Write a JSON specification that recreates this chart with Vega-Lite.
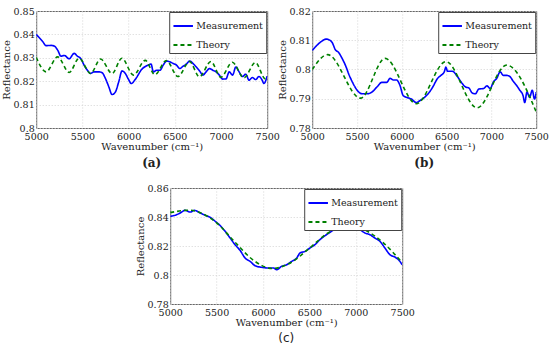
{
"$schema": "https://vega.github.io/schema/vega-lite/v6.json",
"background": "white",
"padding": {"left": 0, "top": 5, "right": 3, "bottom": 2},
"datasets": {
"a": [
{"x":5000,"r":0.8400,"s":"Measurement"},{"x":5071,"r":0.8369,"s":"Measurement"},{"x":5107,"r":0.8352,"s":"Measurement"},{"x":5161,"r":0.8353,"s":"Measurement"},{"x":5196,"r":0.8350,"s":"Measurement"},{"x":5232,"r":0.8333,"s":"Measurement"},{"x":5268,"r":0.8307,"s":"Measurement"},{"x":5304,"r":0.8310,"s":"Measurement"},{"x":5357,"r":0.8296,"s":"Measurement"},{"x":5411,"r":0.8319,"s":"Measurement"},{"x":5446,"r":0.8307,"s":"Measurement"},{"x":5482,"r":0.8297,"s":"Measurement"},{"x":5518,"r":0.8269,"s":"Measurement"},{"x":5554,"r":0.8247,"s":"Measurement"},{"x":5589,"r":0.8233,"s":"Measurement"},{"x":5625,"r":0.8240,"s":"Measurement"},{"x":5679,"r":0.8240,"s":"Measurement"},{"x":5714,"r":0.8236,"s":"Measurement"},{"x":5750,"r":0.8211,"s":"Measurement"},{"x":5786,"r":0.8176,"s":"Measurement"},{"x":5821,"r":0.8143,"s":"Measurement"},{"x":5857,"r":0.8154,"s":"Measurement"},{"x":5893,"r":0.8197,"s":"Measurement"},{"x":5929,"r":0.8244,"s":"Measurement"},{"x":5964,"r":0.8233,"s":"Measurement"},{"x":6000,"r":0.8207,"s":"Measurement"},{"x":6029,"r":0.8190,"s":"Measurement"},{"x":6071,"r":0.8207,"s":"Measurement"},{"x":6143,"r":0.8251,"s":"Measurement"},{"x":6214,"r":0.8269,"s":"Measurement"},{"x":6243,"r":0.8273,"s":"Measurement"},{"x":6268,"r":0.8240,"s":"Measurement"},{"x":6304,"r":0.8247,"s":"Measurement"},{"x":6339,"r":0.8247,"s":"Measurement"},{"x":6375,"r":0.8269,"s":"Measurement"},{"x":6411,"r":0.8286,"s":"Measurement"},{"x":6446,"r":0.8283,"s":"Measurement"},{"x":6482,"r":0.8276,"s":"Measurement"},{"x":6518,"r":0.8269,"s":"Measurement"},{"x":6554,"r":0.8254,"s":"Measurement"},{"x":6589,"r":0.8264,"s":"Measurement"},{"x":6625,"r":0.8273,"s":"Measurement"},{"x":6661,"r":0.8286,"s":"Measurement"},{"x":6696,"r":0.8276,"s":"Measurement"},{"x":6732,"r":0.8261,"s":"Measurement"},{"x":6768,"r":0.8244,"s":"Measurement"},{"x":6804,"r":0.8226,"s":"Measurement"},{"x":6839,"r":0.8240,"s":"Measurement"},{"x":6875,"r":0.8254,"s":"Measurement"},{"x":6911,"r":0.8247,"s":"Measurement"},{"x":6946,"r":0.8240,"s":"Measurement"},{"x":6982,"r":0.8226,"s":"Measurement"},{"x":7018,"r":0.8209,"s":"Measurement"},{"x":7054,"r":0.8210,"s":"Measurement"},{"x":7089,"r":0.8240,"s":"Measurement"},{"x":7125,"r":0.8226,"s":"Measurement"},{"x":7161,"r":0.8261,"s":"Measurement"},{"x":7196,"r":0.8240,"s":"Measurement"},{"x":7232,"r":0.8220,"s":"Measurement"},{"x":7268,"r":0.8230,"s":"Measurement"},{"x":7304,"r":0.8204,"s":"Measurement"},{"x":7339,"r":0.8216,"s":"Measurement"},{"x":7375,"r":0.8207,"s":"Measurement"},{"x":7411,"r":0.8220,"s":"Measurement"},{"x":7446,"r":0.8204,"s":"Measurement"},{"x":7464,"r":0.8190,"s":"Measurement"},{"x":7500,"r":0.8222,"s":"Measurement"},
{"x":5000,"r":0.8302,"s":"Theory"},{"x":5107,"r":0.8240,"s":"Theory"},{"x":5232,"r":0.8304,"s":"Theory"},{"x":5357,"r":0.8237,"s":"Theory"},{"x":5464,"r":0.8298,"s":"Theory"},{"x":5589,"r":0.8233,"s":"Theory"},{"x":5696,"r":0.8295,"s":"Theory"},{"x":5821,"r":0.8233,"s":"Theory"},{"x":5927,"r":0.8298,"s":"Theory"},{"x":6053,"r":0.8226,"s":"Theory"},{"x":6180,"r":0.8289,"s":"Theory"},{"x":6284,"r":0.8228,"s":"Theory"},{"x":6409,"r":0.8288,"s":"Theory"},{"x":6534,"r":0.8220,"s":"Theory"},{"x":6659,"r":0.8284,"s":"Theory"},{"x":6766,"r":0.8219,"s":"Theory"},{"x":6891,"r":0.8284,"s":"Theory"},{"x":6998,"r":0.8217,"s":"Theory"},{"x":7123,"r":0.8281,"s":"Theory"},{"x":7247,"r":0.8214,"s":"Theory"},{"x":7373,"r":0.8280,"s":"Theory"},{"x":7479,"r":0.8210,"s":"Theory"},{"x":7500,"r":0.8212,"s":"Theory"}
],
"b": [
{"x":5000,"r":0.8065,"s":"Measurement"},{"x":5044,"r":0.8080,"s":"Measurement"},{"x":5099,"r":0.8095,"s":"Measurement"},{"x":5154,"r":0.8104,"s":"Measurement"},{"x":5191,"r":0.8101,"s":"Measurement"},{"x":5227,"r":0.8090,"s":"Measurement"},{"x":5257,"r":0.8068,"s":"Measurement"},{"x":5293,"r":0.8059,"s":"Measurement"},{"x":5337,"r":0.8036,"s":"Measurement"},{"x":5374,"r":0.8012,"s":"Measurement"},{"x":5411,"r":0.7982,"s":"Measurement"},{"x":5447,"r":0.7958,"s":"Measurement"},{"x":5502,"r":0.7929,"s":"Measurement"},{"x":5557,"r":0.7917,"s":"Measurement"},{"x":5612,"r":0.7917,"s":"Measurement"},{"x":5667,"r":0.7923,"s":"Measurement"},{"x":5722,"r":0.7940,"s":"Measurement"},{"x":5777,"r":0.7956,"s":"Measurement"},{"x":5832,"r":0.7956,"s":"Measurement"},{"x":5869,"r":0.7970,"s":"Measurement"},{"x":5905,"r":0.7964,"s":"Measurement"},{"x":5942,"r":0.7964,"s":"Measurement"},{"x":5979,"r":0.7946,"s":"Measurement"},{"x":6015,"r":0.7911,"s":"Measurement"},{"x":6052,"r":0.7905,"s":"Measurement"},{"x":6107,"r":0.7899,"s":"Measurement"},{"x":6162,"r":0.7887,"s":"Measurement"},{"x":6199,"r":0.7893,"s":"Measurement"},{"x":6254,"r":0.7905,"s":"Measurement"},{"x":6309,"r":0.7923,"s":"Measurement"},{"x":6345,"r":0.7940,"s":"Measurement"},{"x":6400,"r":0.7970,"s":"Measurement"},{"x":6437,"r":0.7980,"s":"Measurement"},{"x":6474,"r":0.7992,"s":"Measurement"},{"x":6492,"r":0.8008,"s":"Measurement"},{"x":6510,"r":0.7994,"s":"Measurement"},{"x":6565,"r":0.7994,"s":"Measurement"},{"x":6620,"r":0.7976,"s":"Measurement"},{"x":6675,"r":0.7952,"s":"Measurement"},{"x":6712,"r":0.7940,"s":"Measurement"},{"x":6748,"r":0.7937,"s":"Measurement"},{"x":6785,"r":0.7920,"s":"Measurement"},{"x":6822,"r":0.7917,"s":"Measurement"},{"x":6858,"r":0.7933,"s":"Measurement"},{"x":6913,"r":0.7935,"s":"Measurement"},{"x":6950,"r":0.7944,"s":"Measurement"},{"x":6987,"r":0.7935,"s":"Measurement"},{"x":7023,"r":0.7958,"s":"Measurement"},{"x":7060,"r":0.7970,"s":"Measurement"},{"x":7097,"r":0.7992,"s":"Measurement"},{"x":7133,"r":0.7980,"s":"Measurement"},{"x":7170,"r":0.7980,"s":"Measurement"},{"x":7206,"r":0.7976,"s":"Measurement"},{"x":7243,"r":0.7960,"s":"Measurement"},{"x":7280,"r":0.7946,"s":"Measurement"},{"x":7317,"r":0.7929,"s":"Measurement"},{"x":7353,"r":0.7911,"s":"Measurement"},{"x":7372,"r":0.7887,"s":"Measurement"},{"x":7397,"r":0.7923,"s":"Measurement"},{"x":7426,"r":0.7905,"s":"Measurement"},{"x":7456,"r":0.7929,"s":"Measurement"},{"x":7481,"r":0.7899,"s":"Measurement"},{"x":7500,"r":0.7923,"s":"Measurement"},
{"x":5000,"r":0.8000,"s":"Theory"},{"x":5172,"r":0.8051,"s":"Theory"},{"x":5539,"r":0.7902,"s":"Theory"},{"x":5814,"r":0.8038,"s":"Theory"},{"x":6162,"r":0.7883,"s":"Theory"},{"x":6492,"r":0.8027,"s":"Theory"},{"x":6840,"r":0.7869,"s":"Theory"},{"x":7170,"r":0.8015,"s":"Theory"},{"x":7500,"r":0.7855,"s":"Theory"}
],
"c": [
{"x":5000,"r":0.8405,"s":"Measurement"},{"x":5054,"r":0.8412,"s":"Measurement"},{"x":5108,"r":0.8428,"s":"Measurement"},{"x":5161,"r":0.8446,"s":"Measurement"},{"x":5215,"r":0.8434,"s":"Measurement"},{"x":5262,"r":0.8446,"s":"Measurement"},{"x":5323,"r":0.8428,"s":"Measurement"},{"x":5377,"r":0.8412,"s":"Measurement"},{"x":5430,"r":0.8398,"s":"Measurement"},{"x":5484,"r":0.8371,"s":"Measurement"},{"x":5538,"r":0.8341,"s":"Measurement"},{"x":5592,"r":0.8301,"s":"Measurement"},{"x":5646,"r":0.8255,"s":"Measurement"},{"x":5699,"r":0.8209,"s":"Measurement"},{"x":5753,"r":0.8170,"s":"Measurement"},{"x":5807,"r":0.8117,"s":"Measurement"},{"x":5861,"r":0.8094,"s":"Measurement"},{"x":5915,"r":0.8064,"s":"Measurement"},{"x":5986,"r":0.8053,"s":"Measurement"},{"x":6058,"r":0.8048,"s":"Measurement"},{"x":6112,"r":0.8048,"s":"Measurement"},{"x":6148,"r":0.8037,"s":"Measurement"},{"x":6201,"r":0.8060,"s":"Measurement"},{"x":6255,"r":0.8071,"s":"Measurement"},{"x":6309,"r":0.8094,"s":"Measurement"},{"x":6363,"r":0.8117,"s":"Measurement"},{"x":6399,"r":0.8152,"s":"Measurement"},{"x":6453,"r":0.8163,"s":"Measurement"},{"x":6506,"r":0.8186,"s":"Measurement"},{"x":6560,"r":0.8209,"s":"Measurement"},{"x":6614,"r":0.8244,"s":"Measurement"},{"x":6668,"r":0.8271,"s":"Measurement"},{"x":6722,"r":0.8294,"s":"Measurement"},{"x":6775,"r":0.8317,"s":"Measurement"},{"x":6829,"r":0.8340,"s":"Measurement"},{"x":6883,"r":0.8336,"s":"Measurement"},{"x":6937,"r":0.8359,"s":"Measurement"},{"x":6991,"r":0.8331,"s":"Measurement"},{"x":7044,"r":0.8313,"s":"Measurement"},{"x":7098,"r":0.8290,"s":"Measurement"},{"x":7152,"r":0.8278,"s":"Measurement"},{"x":7206,"r":0.8255,"s":"Measurement"},{"x":7260,"r":0.8232,"s":"Measurement"},{"x":7314,"r":0.8186,"s":"Measurement"},{"x":7367,"r":0.8140,"s":"Measurement"},{"x":7421,"r":0.8124,"s":"Measurement"},{"x":7475,"r":0.8094,"s":"Measurement"},{"x":7500,"r":0.8071,"s":"Measurement"},
{"x":5000,"r":0.8430,"s":"Theory"},{"x":5200,"r":0.8447,"s":"Theory"},{"x":5500,"r":0.8360,"s":"Theory"},{"x":5700,"r":0.8225,"s":"Theory"},{"x":5900,"r":0.8100,"s":"Theory"},{"x":6100,"r":0.8045,"s":"Theory"},{"x":6300,"r":0.8085,"s":"Theory"},{"x":6500,"r":0.8185,"s":"Theory"},{"x":6700,"r":0.8290,"s":"Theory"},{"x":6900,"r":0.8345,"s":"Theory"},{"x":7100,"r":0.8310,"s":"Theory"},{"x":7300,"r":0.8220,"s":"Theory"},{"x":7500,"r":0.8085,"s":"Theory"}
]
},
"config": {
"font": "DejaVu Serif",
"view": {"stroke": "#666666", "strokeWidth": 1},
"axis": {"labelFont": "DejaVu Serif", "labelFontSize": 9.5, "titleFont": "DejaVu Serif", "titleFontSize": 10, "titleFontWeight": "normal", "labelColor": "#222222", "titleColor": "#222222", "domain": false, "ticks": false, "labelPadding": 3, "grid": true, "gridColor": "#d4d4d4", "gridDash": [1, 2], "labelFlush": false},
"axisX": {"titlePadding": 1},
"axisY": {"titlePadding": 2, "labelPadding": 2},
"legend": {"orient": "top-right", "offset": 1, "title": null, "labelFont": "DejaVu Serif", "labelFontSize": 9.5, "labelColor": "#222222", "strokeColor": "#444444", "fillColor": "white", "padding": 3, "rowPadding": 3, "symbolType": "stroke", "symbolSize": 380, "symbolStrokeWidth": 1.8, "labelOffset": 2}
},
"spacing": 13,
"center": true,
"resolve": {"scale": {"x": "independent", "y": "independent", "color": "independent", "strokeDash": "independent"}},
"vconcat": [
{
"bounds": "flush",
"spacing": 45,
"resolve": {"scale": {"x": "independent", "y": "independent", "color": "independent", "strokeDash": "independent"}},
"hconcat": [
{
"width": 231, "height": 117,
"data": {"name": "a"},
"title": {"text": "(a)", "orient": "bottom", "font": "DejaVu Serif", "fontWeight": "bold", "fontSize": 12, "offset": 6, "color": "#222222"},
"mark": {"type": "line", "interpolate": "monotone", "strokeWidth": 1.6, "clip": true},
"encoding": {
"x": {"field": "x", "type": "quantitative", "scale": {"domain": [5000, 7500], "nice": false}, "axis": {"values": [5000, 5500, 6000, 6500, 7000, 7500], "format": "d", "title": "Wavenumber (cm⁻¹)"}},
"y": {"field": "r", "type": "quantitative", "scale": {"domain": [0.8, 0.85], "nice": false, "zero": false}, "axis": {"values": [0.8, 0.81, 0.82, 0.83, 0.84, 0.85], "format": "~g", "title": "Reflectance"}},
"color": {"field": "s", "type": "nominal", "scale": {"domain": ["Measurement", "Theory"], "range": ["#0000ff", "#008000"]}},
"strokeDash": {"field": "s", "type": "nominal", "scale": {"domain": ["Measurement", "Theory"], "range": [[1, 0], [4, 3]]}}
}
},
{
"width": 224, "height": 117,
"data": {"name": "b"},
"title": {"text": "(b)", "orient": "bottom", "font": "DejaVu Serif", "fontWeight": "bold", "fontSize": 12, "offset": 6, "color": "#222222"},
"mark": {"type": "line", "interpolate": "monotone", "strokeWidth": 1.6, "clip": true},
"encoding": {
"x": {"field": "x", "type": "quantitative", "scale": {"domain": [5000, 7500], "nice": false}, "axis": {"values": [5000, 5500, 6000, 6500, 7000, 7500], "format": "d", "title": "Wavenumber (cm⁻¹)"}},
"y": {"field": "r", "type": "quantitative", "scale": {"domain": [0.78, 0.82], "nice": false, "zero": false}, "axis": {"values": [0.78, 0.79, 0.8, 0.81, 0.82], "format": "~g", "title": "Reflectance"}},
"color": {"field": "s", "type": "nominal", "scale": {"domain": ["Measurement", "Theory"], "range": ["#0000ff", "#008000"]}},
"strokeDash": {"field": "s", "type": "nominal", "scale": {"domain": ["Measurement", "Theory"], "range": [[1, 0], [4, 3]]}}
}
}
]
},
{
"width": 232, "height": 116,
"data": {"name": "c"},
"title": {"text": "(c)", "orient": "bottom", "font": "DejaVu Sans", "fontWeight": "normal", "fontSize": 12, "offset": 5, "color": "#222222"},
"mark": {"type": "line", "interpolate": "monotone", "strokeWidth": 1.6, "clip": true},
"encoding": {
"x": {"field": "x", "type": "quantitative", "scale": {"domain": [5000, 7500], "nice": false}, "axis": {"values": [5000, 5500, 6000, 6500, 7000, 7500], "format": "d", "title": "Wavenumber (cm⁻¹)"}},
"y": {"field": "r", "type": "quantitative", "scale": {"domain": [0.78, 0.86], "nice": false, "zero": false}, "axis": {"values": [0.78, 0.8, 0.82, 0.84, 0.86], "format": "~g", "title": "Reflectance"}},
"color": {"field": "s", "type": "nominal", "scale": {"domain": ["Measurement", "Theory"], "range": ["#0000ff", "#008000"]}},
"strokeDash": {"field": "s", "type": "nominal", "scale": {"domain": ["Measurement", "Theory"], "range": [[1, 0], [4, 3]]}}
}
}
]
}
